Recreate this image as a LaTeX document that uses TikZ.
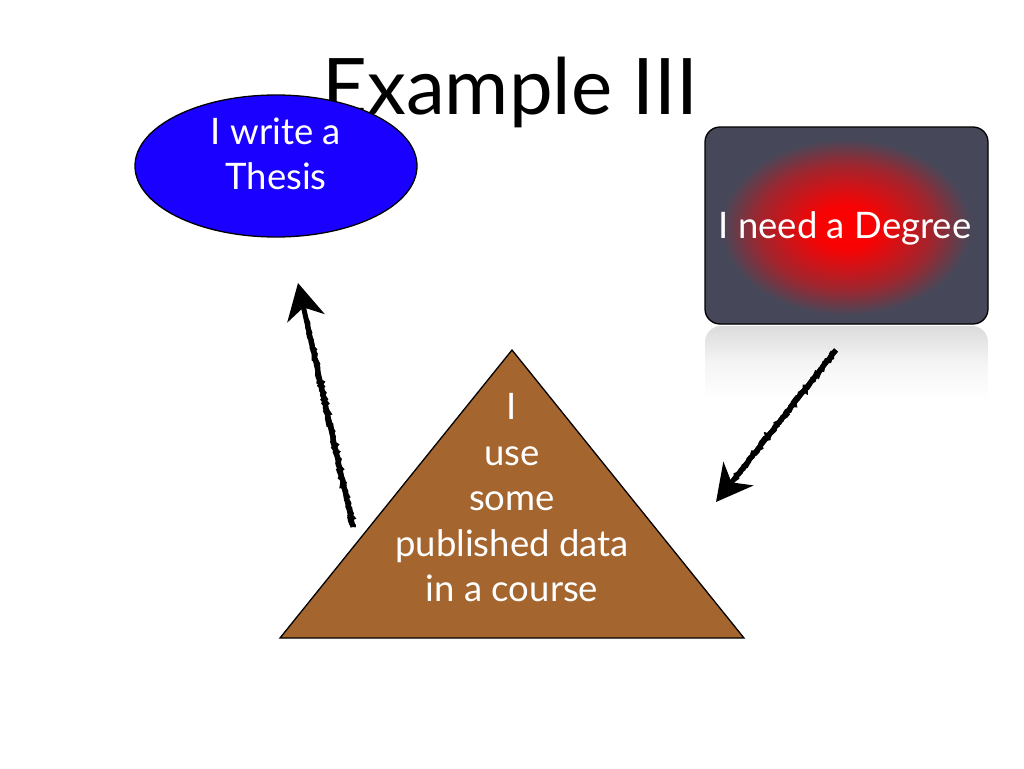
\documentclass[tikz,border=0pt]{standalone}
\usepackage{fontspec}
\setmainfont{Lato}
\usetikzlibrary{arrows.meta,decorations.pathmorphing,shapes.geometric,calc}
\definecolor{boxgray}{HTML}{464859}
\definecolor{thesisblue}{HTML}{1A00FF}
\definecolor{tribrown}{HTML}{A5652F}
\pgfdeclareradialshading{redglow}{\pgfpoint{0bp}{0bp}}{color(0bp)=(red); color(5.5bp)=(red!96!boxgray); color(11bp)=(red!70!boxgray); color(15.5bp)=(red!48!boxgray); color(22bp)=(boxgray); color(50bp)=(boxgray)}
\tikzset{
  bodytext/.style={text=white, align=center, font=\fontsize{36.5}{45.5}\selectfont},
  outline/.style={draw=black, line width=1.3pt},
  sketchline/.style={line width=5.2pt, black,
    decorate, decoration={random steps, segment length=2pt, amplitude=1.2pt}},
  sketchtip/.style={line width=5pt, black,
    -{Stealth[length=36pt,width=38pt,inset=11pt]}}
}
\begin{document}
\begin{tikzpicture}[x=1pt,y=-1pt]
\useasboundingbox[fill=white] (0,0) rectangle (1024,768);

% title
\node[font=\fontsize{78}{78}\selectfont, anchor=base, inner sep=0] (title) at (510,114) {Example III};

% ellipse
\node[ellipse, outline, fill=thesisblue, minimum width=282pt, minimum height=142pt, inner sep=0] (thesis) at (276,166) {};
\node[bodytext] (thesistext) at (276,154) {I write a\\Thesis};

% reflection of box
\begin{scope}
  \clip[rounded corners=16pt] (705,326) rectangle (988,440);
  \shade[top color=black!14, bottom color=white, middle color=black!4] (705,326) rectangle (988,400);
\end{scope}

% degree box
\node[rounded corners=15pt, outline, fill=boxgray, minimum width=283pt, minimum height=197pt, inner sep=0,
  path picture={\shade[shading=redglow] ([shift={(-1.5,3)}]path picture bounding box.south west) rectangle ([shift={(-1.5,3)}]path picture bounding box.north east);}] (degree) at (846.5,225.5) {};
\node[bodytext] (degreetext) at (845,228) {I need a Degree};

% triangle
\coordinate (tA) at (512,350);
\coordinate (tL) at (280,638);
\coordinate (tR) at (744,638);
\draw[outline, fill=tribrown] (tA) -- (tL) -- (tR) -- cycle;
\node[bodytext] (datatext) at (512,498) {I\\use\\some\\published data\\in a course};

% arrows
\coordinate (upTail) at (353,527);
\coordinate (upTip) at (298,283);
\coordinate (downTail) at (836,350);
\coordinate (downTip) at (716,502);
\draw[sketchtip] (upTail) -- (upTip);
\draw[sketchline] (upTail) -- ($(upTail)!0.85!(upTip)$);
\draw[sketchtip] (downTail) -- (downTip);
\draw[sketchline] (downTail) -- ($(downTail)!0.85!(downTip)$);
\end{tikzpicture}
\end{document}
